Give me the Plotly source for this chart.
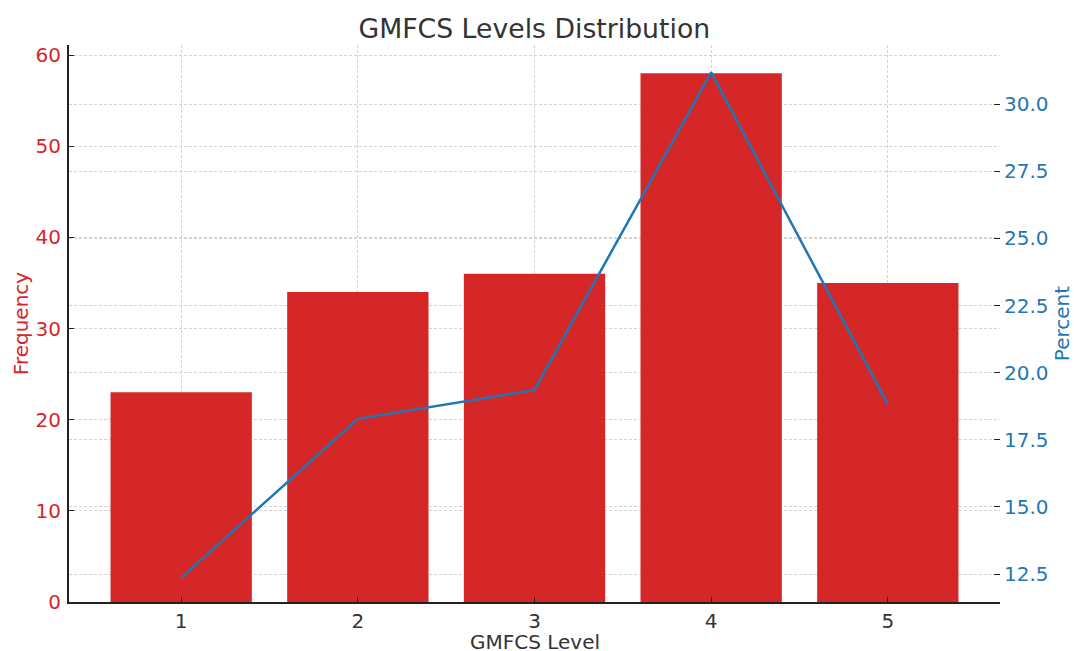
import plotly.graph_objects as go

levels = [1, 2, 3, 4, 5]
frequency = [23, 34, 36, 58, 35]
percent = [f / sum(frequency) * 100 for f in frequency]

fig = go.Figure()
fig.add_trace(go.Bar(x=levels, y=frequency, width=0.8, marker=dict(color="#d62728", line=dict(width=0)),
                     name="Frequency", yaxis="y"))
fig.add_trace(go.Scatter(x=levels, y=percent, mode="lines", line=dict(color="#1f77b4", width=2.5),
                         name="Percent", yaxis="y2"))

grid = "rgba(200,200,200,0.8)"
dash = "3px,2px"
W, H = 1074, 651
L, R, T, B = 69, 74, 45, 49
plot_h = H - T - B
fig.update_layout(
    width=W, height=H,
    margin=dict(l=L, r=R, t=T, b=B, autoexpand=False),
    paper_bgcolor="white", plot_bgcolor="white",
    showlegend=False,
    font=dict(family="DejaVu Sans", color="#333333"),
    title=dict(text="GMFCS Levels Distribution", x=0.4975, xanchor="center",
               y=1 - 19 / H, yanchor="top", yref="container",
               font=dict(size=26.7, color="#333333")),
    xaxis=dict(range=[0.365, 5.635], tickvals=levels, ticktext=[str(l) for l in levels],
               showgrid=True, gridcolor=grid, griddash=dash, gridwidth=1,
               showline=True, linecolor="#222222", linewidth=2, ticks="inside", ticklen=5,
               tickcolor="#222222", tickfont=dict(size=20, color="#333333"),
               zeroline=False, layer="above traces", automargin=False),
    yaxis=dict(range=[0, 61.1], tickvals=[0, 10, 20, 30, 40, 50, 60],
               showgrid=True, gridcolor=grid, griddash=dash, gridwidth=1,
               showline=True, linecolor="#222222", linewidth=2, ticks="inside", ticklen=5,
               tickcolor="#222222", tickfont=dict(size=20, color="#d62728"),
               ticklabelstandoff=2,
               title=dict(text="Frequency", font=dict(size=20, color="#d62728"), standoff=2),
               zeroline=False, layer="above traces", automargin=False),
    yaxis2=dict(range=[11.46, 32.2], overlaying="y", side="right",
                tickvals=[12.5, 15, 17.5, 20, 22.5, 25, 27.5, 30],
                ticktext=["12.5", "15.0", "17.5", "20.0", "22.5", "25.0", "27.5", "30.0"],
                showgrid=True, gridcolor=grid, griddash=dash, gridwidth=1,
                showline=False, ticks="inside", ticklen=6, tickcolor="#222222",
                tickfont=dict(size=20, color="#1f77b4"), ticklabelstandoff=3,
                title=dict(text="Percent", font=dict(size=20, color="#1f77b4"), standoff=11),
                zeroline=False, layer="above traces", automargin=False),
    annotations=[dict(text="GMFCS Level", x=0.5, xref="paper", y=-40 / plot_h, yref="paper",
                      xanchor="center", yanchor="middle", showarrow=False,
                      font=dict(size=20, color="#333333"))],
)

fig.write_html("out.html", config={"displayModeBar": False},
               post_script="document.body.style.margin='0';")
